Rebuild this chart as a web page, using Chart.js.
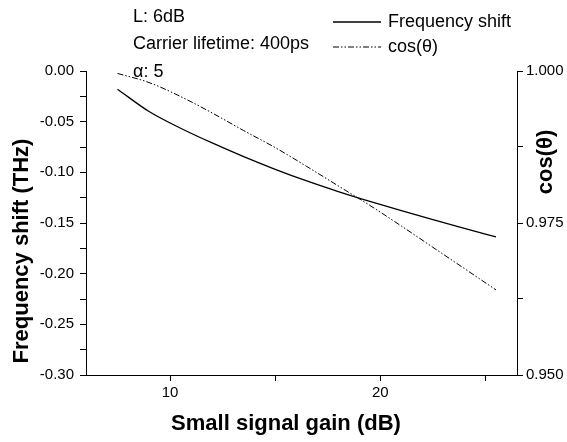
<!DOCTYPE html>
<html>
<head>
<meta charset="utf-8">
<script src="https://cdn.jsdelivr.net/npm/chart.js@4.4.1/dist/chart.umd.min.js"></script>
<style>
  html, body { margin: 0; padding: 0; background: #fff; }
  #wrap { width: 567px; height: 442px; }
</style>
</head>
<body>
<div id="wrap"><canvas id="chart" width="567" height="442"></canvas></div>
<script>
// values
const gainDb = [7.5, 9, 10.5, 12, 13.5, 15, 16.5, 18, 19.5, 21, 22.5, 24, 25.5];
const freqShift = [-0.018, -0.040, -0.0565, -0.071, -0.0845, -0.097, -0.1085, -0.119, -0.1287, -0.1379, -0.1467, -0.1553, -0.1638];
const cosTheta = [0.9996, 0.9981, 0.9958, 0.9931, 0.9902, 0.9874, 0.9843, 0.9811, 0.9779, 0.9745, 0.9710, 0.9675, 0.9640];
const seriesNames = ['Frequency shift', 'cos(\u03b8)'];
const notes = ['L: 6dB', 'Carrier lifetime: 400ps', '\u03b1: 5'];
const xTitle = 'Small signal gain (dB)';
const yTitle = 'Frequency shift (THz)';
const y1Title = 'cos(\u03b8)';

const FONT = '"Liberation Sans", Arial, Helvetica, sans-serif';
const dashDotDot = [6, 2, 1.5, 2, 1.5, 2];

function toPoints(xs, ys) {
    return xs.map((x, i) => ({ x: x, y: ys[i] }));
}

// text that the reference places by hand: notes, legend, axis titles
const textPlugin = {
    id: 'textPlugin',
    afterDraw(chart) {
        const ctx = chart.ctx;
        ctx.save();
        ctx.fillStyle = '#000';
        ctx.textBaseline = 'middle';

        ctx.font = '18px ' + FONT;
        ctx.textAlign = 'left';
        const noteY = [17, 44, 72];
        notes.forEach((t, i) => ctx.fillText(t, 133, noteY[i]));

        // legend
        const legY = [22, 47];
        chart.data.datasets.forEach((ds, i) => {
            ctx.beginPath();
            ctx.strokeStyle = '#000';
            ctx.lineWidth = ds.borderWidth;
            ctx.setLineDash(ds.borderDash || []);
            ctx.moveTo(333, legY[i]);
            ctx.lineTo(381, legY[i]);
            ctx.stroke();
            ctx.setLineDash([]);
            ctx.fillText(ds.label, 388, legY[i]);
        });

        // axis titles
        ctx.font = 'bold 22px ' + FONT;
        ctx.textAlign = 'center';
        ctx.fillText(xTitle, 286, 424);

        ctx.save();
        ctx.translate(22, 251);
        ctx.rotate(-Math.PI / 2);
        ctx.fillText(yTitle, 0, 0);
        ctx.restore();

        ctx.save();
        ctx.translate(546, 162);
        ctx.rotate(-Math.PI / 2);
        ctx.fillText(y1Title, 0, 0);
        ctx.restore();

        ctx.restore();
    }
};

const axisGrid = {
    drawOnChartArea: false,
    color: '#000',
    tickLength: 6,
    tickWidth: 1
};
const axisBorder = { color: '#000', width: 1 };
const tickFont = { family: FONT, size: 15 };

new Chart(document.getElementById('chart').getContext('2d'), {
    type: 'line',
    data: {
        datasets: [
            {
                label: seriesNames[0],
                data: toPoints(gainDb, freqShift),
                yAxisID: 'y',
                borderColor: '#000',
                borderWidth: 1.3,
                pointRadius: 0,
                fill: false,
                cubicInterpolationMode: 'monotone'
            },
            {
                label: seriesNames[1],
                data: toPoints(gainDb, cosTheta),
                yAxisID: 'y1',
                borderColor: '#000',
                borderWidth: 1,
                borderDash: dashDotDot,
                pointRadius: 0,
                fill: false,
                cubicInterpolationMode: 'monotone'
            }
        ]
    },
    options: {
        responsive: false,
        animation: false,
        devicePixelRatio: 1,
        layout: { padding: { top: 71, left: 0, right: 0, bottom: 0 } },
        plugins: {
            legend: { display: false },
            tooltip: { enabled: false },
            title: { display: false }
        },
        scales: {
            x: {
                type: 'linear',
                min: 6,
                max: 26.5,
                grid: axisGrid,
                border: axisBorder,
                ticks: {
                    stepSize: 5,
                    includeBounds: false,
                    autoSkip: false,
                    maxRotation: 0,
                    color: '#000',
                    font: tickFont,
                    padding: 3,
                    callback: v => (Math.round(v) % 10 === 0 ? String(Math.round(v)) : '')
                },
                afterFit: s => { s.height = 67; }
            },
            y: {
                position: 'left',
                min: -0.3,
                max: 0,
                grid: axisGrid,
                border: axisBorder,
                ticks: {
                    stepSize: 0.025,
                    autoSkip: false,
                    color: '#000',
                    font: tickFont,
                    padding: 6,
                    callback: (v, i) => (i % 2 === 0 ? (Math.abs(v) < 1e-9 ? '0.00' : v.toFixed(2)) : '')
                },
                afterFit: s => { s.width = 86; }
            },
            y1: {
                position: 'right',
                min: 0.95,
                max: 1.0,
                grid: axisGrid,
                border: axisBorder,
                ticks: {
                    stepSize: 0.0125,
                    autoSkip: false,
                    color: '#000',
                    font: tickFont,
                    padding: 3,
                    callback: (v, i) => (i % 2 === 0 ? v.toFixed(3) : '')
                },
                afterFit: s => { s.width = 50; }
            }
        }
    },
    plugins: [textPlugin]
});
</script>
</body>
</html>
